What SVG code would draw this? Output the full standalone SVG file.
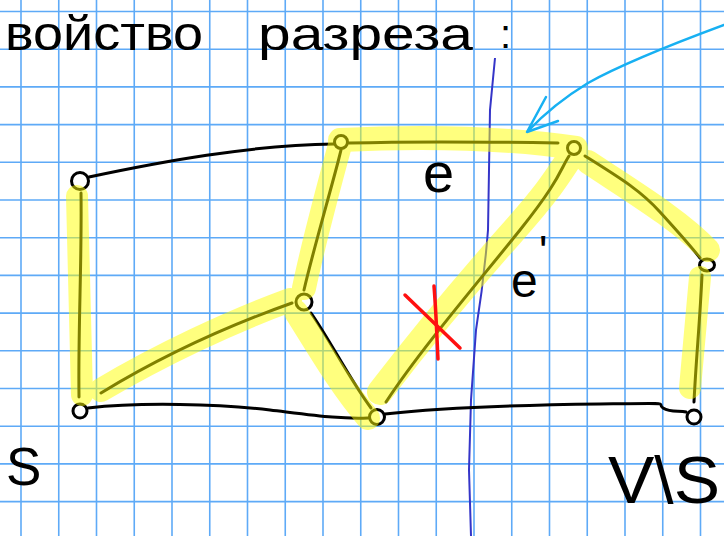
<svg xmlns="http://www.w3.org/2000/svg" width="724" height="536" viewBox="0 0 724 536">
<style>
.grid{stroke:#5eaaf7;stroke-width:1.6;fill:none}
.edge{stroke:#000;stroke-width:3;fill:none;stroke-linecap:round;stroke-linejoin:round}
.node{stroke:#000;stroke-width:3;fill:#fff}
.hl{stroke:#ffff00;fill:none;stroke-linecap:round;stroke-linejoin:round}
.hand{font-family:"Liberation Sans","DejaVu Sans",sans-serif;fill:#000}
</style>
<rect width="724" height="536" fill="#fff"/>
<g id="grid">
<path class="grid" d="M21,0V536M58.75,0V536M96.5,0V536M134.25,0V536M172,0V536M209.75,0V536M247.5,0V536M285.25,0V536M323,0V536M360.75,0V536M398.5,0V536M436.25,0V536M474,0V536M511.75,0V536M549.5,0V536M587.25,0V536M625,0V536M662.75,0V536M700.5,0V536"/>
<path class="grid" d="M0,11.5H724M0,49.2H724M0,86.9H724M0,124.6H724M0,162.3H724M0,200H724M0,237.7H724M0,275.4H724M0,313.1H724M0,350.8H724M0,388.5H724M0,426.2H724M0,463.9H724M0,501.6H724"/>
</g>
<g id="title">
<text class="hand" x="5" y="50" font-size="48" textLength="198" lengthAdjust="spacingAndGlyphs">войство</text>
<text class="hand" x="258" y="50" font-size="46" textLength="215" lengthAdjust="spacingAndGlyphs">разреза</text>
<text class="hand" x="500" y="48" font-size="40">:</text>
</g>
<path id="cut" d="M495,58 L490,110 L488,230 Q484,280 476,330 L471,400 L469,470 L471,536" stroke="#3535c8" stroke-width="2" fill="none"/>
<g id="connectors">
<path class="edge" d="M89,177 C160,162 250,145 334,144"/>
<path class="edge" d="M81,193 C82,260 78,330 79,397"/>
<path class="edge" d="M88,408 C140,402 220,404 270,410 S340,419 368,418"/>
<path class="edge" d="M101,393 C160,357 230,325 292,303"/>
<path class="edge" d="M304,290 C312,255 328,200 338,162 L341,150"/>
<path class="edge" d="M311,313 C330,340 350,380 371,408"/>
<path class="edge" d="M386,402 C420,350 480,280 520,230 S560,170 569,156"/>
<path class="edge" d="M349,143 C420,141 500,142 558,143"/>
<path class="edge" d="M585,156 C620,178 640,190 660,212 S690,245 700,258"/>
<path class="edge" d="M702,275 C700,320 696,360 694,402"/>
<path class="edge" d="M385,414 C440,408 520,405 600,404 S655,403 663,408 S680,410 686,412"/>
</g>
<g id="n-a"><circle class="node" cx="80" cy="181" r="8.5"/></g>
<g id="n-b"><circle class="node" cx="80" cy="411" r="7"/></g>
<g id="n-c"><circle class="node" cx="341" cy="142" r="6.5"/></g>
<g id="n-d"><circle class="node" cx="304" cy="302" r="8"/></g>
<g id="n-e"><circle class="node" cx="377" cy="417" r="7.5"/></g>
<g id="n-f"><circle class="node" cx="574" cy="148" r="6.5"/></g>
<g id="n-g"><ellipse class="node" cx="707" cy="265" rx="7.5" ry="6"/></g>
<g id="n-h"><circle class="node" cx="694" cy="417" r="7"/></g>
<g id="highlight" opacity="0.5">
<path class="hl" stroke-width="22" d="M77,196 C79,260 80,330 82,395"/>
<path class="hl" stroke-width="24" d="M101,390 C160,355 230,322 290,300"/>
<path class="hl" stroke-width="24" d="M304,288 C312,250 325,200 340,145"/>
<path class="hl" stroke-width="24" d="M296,312 C320,350 340,385 368,418"/>
<path class="hl" stroke-width="26" d="M380,392 C420,340 470,280 510,235 S555,180 575,150"/>
<path class="hl" stroke-width="24" d="M340,140 C420,136 500,137 576,148"/>
<path class="hl" stroke-width="24" d="M588,162 C630,190 680,220 708,250"/>
<path class="hl" stroke-width="22" d="M700,277 L690,388"/>
</g>
<g id="cross" stroke="#ff1010" stroke-width="3.5" fill="none" stroke-linecap="round">
<path d="M405,295 L460,348"/>
<path d="M434,286 C436,310 437,340 438,359"/>
</g>
<g id="pointer" stroke="#17b0f2" stroke-width="2.5" fill="none" stroke-linecap="round" stroke-linejoin="round">
<path d="M724,25 C670,45 615,68 588,83 C565,97 545,113 528,131"/>
<path d="M546,97 L527,132 L558,121"/>
</g>
<g id="labels">
<text class="hand" x="423" y="192" font-size="56">e</text>
<text class="hand" x="511" y="297" font-size="48">e<tspan x="539" y="267" font-size="44">'</tspan></text>
<text class="hand" x="6" y="485" font-size="53">S</text>
<text class="hand" x="608" y="503" font-size="66" textLength="112" lengthAdjust="spacingAndGlyphs">V\S</text>
</g>
</svg>
